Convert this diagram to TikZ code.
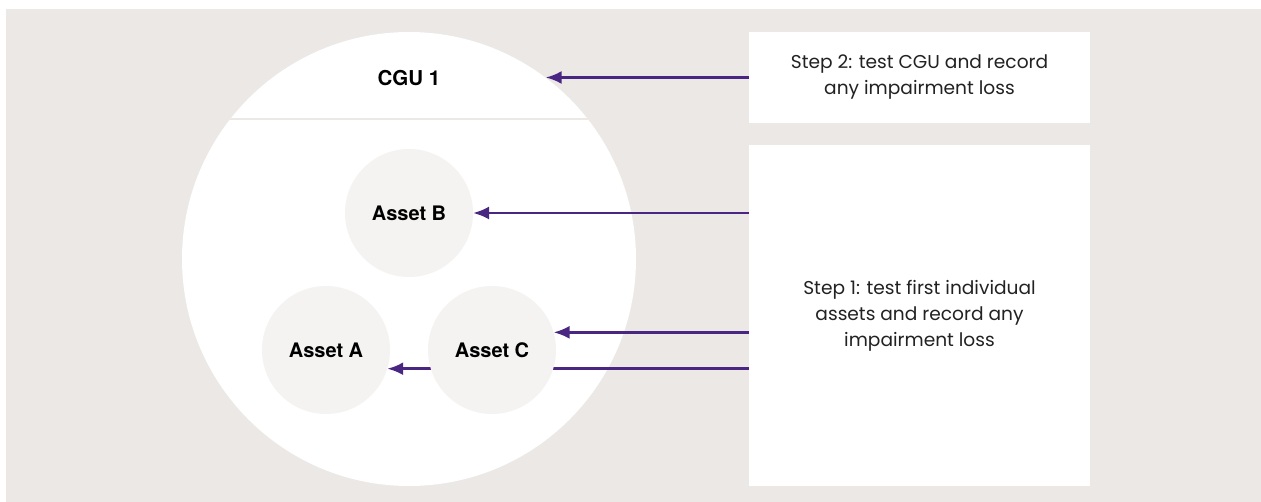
\documentclass[tikz,border=0pt]{standalone}
\usepackage{fontspec}
\usepackage{xcolor}
\usetikzlibrary{arrows.meta}
\setmainfont{Poppins}
\newfontfamily\labelfont{TeX Gyre Heros}
\definecolor{paneltaupe}{HTML}{ECE8E5}
\definecolor{assetgrey}{HTML}{F4F3F2}
\definecolor{arrowpurple}{HTML}{4A2683}
\definecolor{steptext}{HTML}{222222}

\tikzset{
	asset/.style={circle, fill=assetgrey, minimum size=128pt, inner sep=0pt, outer sep=0pt, font=\labelfont\bfseries\fontsize{20}{24}\selectfont},
	stepbox/.style={fill=white, inner sep=0pt, outer sep=0pt, align=center, text=steptext, font=\fontsize{18.6}{26}\selectfont},
	arr/.style={arrowpurple, line width=2.8pt, -{Latex[length=16pt, width=13pt]}}
}

\begin{document}
\begin{tikzpicture}[x=1pt, y=-1pt]
	\useasboundingbox (0,0) rectangle (1261,502);
	\fill[paneltaupe] (6,9) rectangle (1261,502);
	% CGU circle and its divider
	\node[circle, fill=white, minimum size=454pt, inner sep=0pt, outer sep=0pt] (cgu) at (409,259) {};
	\node[font=\labelfont\bfseries\fontsize{20.5}{24}\selectfont] (cgulabel) at (409,78) {CGU 1};
	\draw[paneltaupe, line width=2pt] (cgu.38) -- (cgu.142);
	% steps
	\node[stepbox, minimum width=341pt, minimum height=91pt] (steptwo) at (919.5,77.5) {Step 2: test CGU and record\\any impairment loss};
	\node[stepbox, minimum width=341pt, minimum height=341pt] (stepone) at (919.5,315.5) {Step 1: test first individual\\assets and record any\\impairment loss};
	% assets
	\node[asset] (assetb) at (409,213) {Asset B};
	\node[asset] (asseta) at (326,350) {Asset A};
	\draw[arr] (stepone.west |- asseta.-17) -- (asseta.-17);
	\node[asset] (assetc) at (492,350) {Asset C};
	\draw[arr] (steptwo.west) -- (steptwo.west -| cgu.53);
	\draw[arr] (stepone.west |- assetb.east) -- (assetb.east);
	\draw[arr] (stepone.west |- assetc.16) -- (assetc.16);
\end{tikzpicture}
\end{document}
